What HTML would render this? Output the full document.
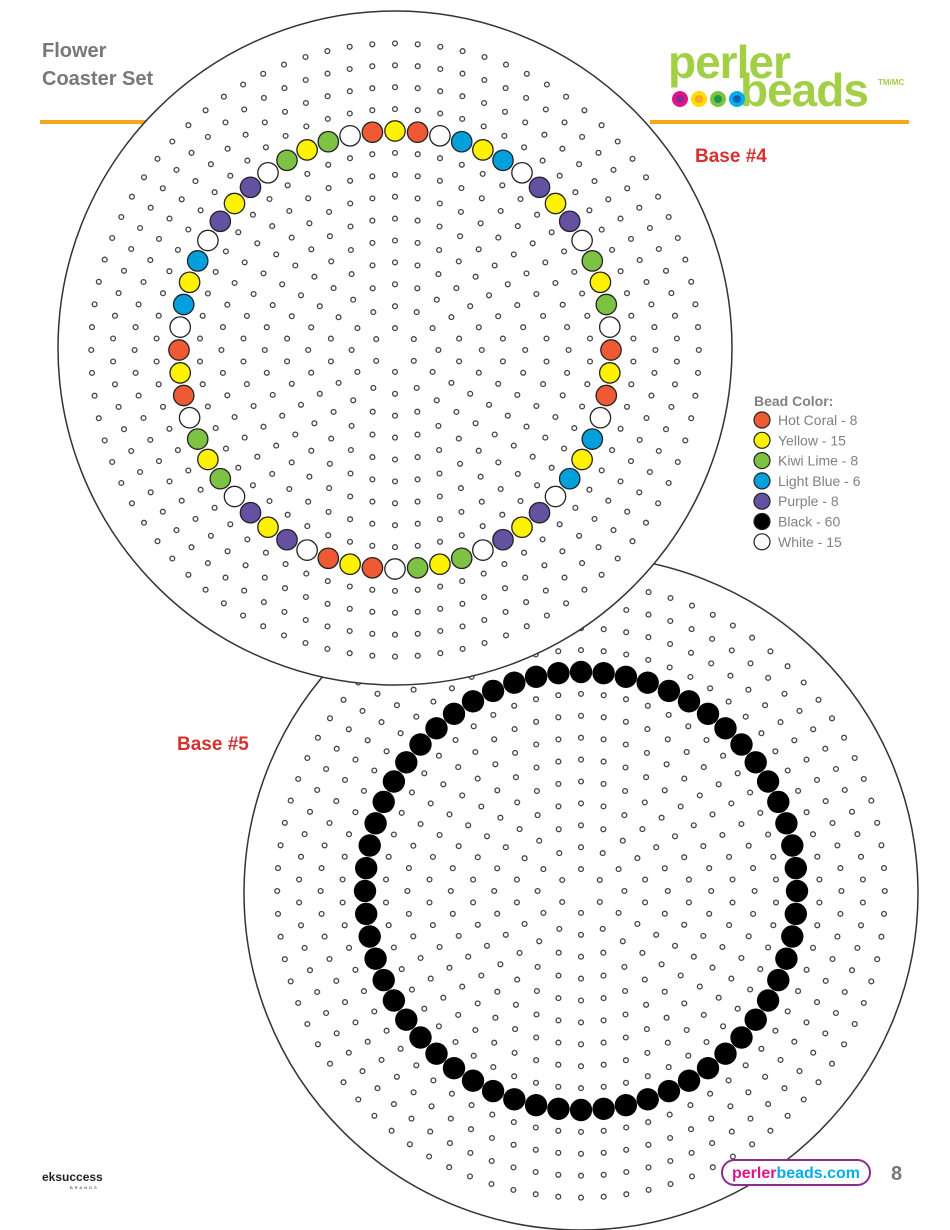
<!DOCTYPE html>
<html><head><meta charset="utf-8"><style>
body{margin:0;background:#fff;width:950px;height:1230px;overflow:hidden;font-family:"Liberation Sans",sans-serif}
</style></head><body>
<svg id="s" width="950" height="1230" xmlns="http://www.w3.org/2000/svg" style="position:absolute;left:0;top:0">
<rect x="40" y="120" width="110" height="4" fill="#f5a81c"/>
<rect x="650" y="120" width="259" height="4" fill="#f5a81c"/>
<g id="b5"></g>
<g id="b4"></g>
<text x="42" y="57" font-size="20" font-weight="bold" fill="#77787b">Flower</text>
<text x="42" y="85" font-size="20" font-weight="bold" fill="#77787b">Coaster Set</text>
<text x="668" y="78" font-size="46" font-weight="bold" fill="#a3cf47" letter-spacing="-1">perler</text>
<text x="740" y="106" font-size="46" font-weight="bold" fill="#a3cf47" letter-spacing="-1">beads</text>
<text x="878" y="85" font-size="8" font-weight="bold" fill="#a3cf47">TM/MC</text>
<circle cx="680" cy="99" r="8" fill="#e0148a"/><circle cx="680" cy="99" r="4" fill="#8b2a8e"/>
<circle cx="699" cy="99" r="8" fill="#ffdc00"/><circle cx="699" cy="99" r="4" fill="#f5a81c"/>
<circle cx="718" cy="99" r="8" fill="#7dc242"/><circle cx="718" cy="99" r="4" fill="#1a9a48"/>
<circle cx="737" cy="99" r="8" fill="#00aeef"/><circle cx="737" cy="99" r="4" fill="#1060b0"/>
<text x="695" y="162" font-size="19" font-weight="bold" fill="#d6312f">Base #4</text>
<text x="177" y="750" font-size="19" font-weight="bold" fill="#d6312f">Base #5</text>
<text x="754" y="406" font-size="14" font-weight="bold" fill="#808184">Bead Color:</text>
<g id="leg" font-size="14" fill="#808184"></g>
<text x="42" y="1181" font-size="12" font-weight="bold" fill="#222">eksuccess</text>
<text x="70" y="1189" font-size="4" fill="#222" letter-spacing="2">BRANDS</text>
<rect x="722" y="1160" width="148" height="25" rx="12.5" fill="#fff" stroke="#8e2b8e" stroke-width="2"/>
<text x="796" y="1178" font-size="16" font-weight="bold" text-anchor="middle"><tspan fill="#e0148a">perler</tspan><tspan fill="#00aeef">beads.com</tspan></text>
<text x="891" y="1180" font-size="20" font-weight="bold" fill="#77787b">8</text>
</svg>
<script>
var NS="http://www.w3.org/2000/svg";
function c(g,x,y,r,f,s,w){var e=document.createElementNS(NS,"circle");e.setAttribute("cx",x.toFixed(1));e.setAttribute("cy",y.toFixed(1));e.setAttribute("r",r);e.setAttribute("fill",f);if(s){e.setAttribute("stroke",s);e.setAttribute("stroke-width",w);}g.appendChild(e);}
var col={C:"#ef5a34",Y:"#fff200",G:"#7dc242",B:"#00a0dd",P:"#6451a2",W:"#fff",K:"#000"};
var seq4="YCWGYGWPYPWBYBWCYCWGYGWPYPWCYCWGYGWPYPWBYBWCYCWGYGWPYPWBYBWC";
function base(g,cx,cy,seq,black){
 c(g,cx,cy+(black?2:-2),337,"#fff","#333",1.5);
 for(var k=1;k<=14;k++){if(k==10)continue;var n=6*k;var off=(k%2)?0.5:0;
  for(var i=0;i<n;i++){var a=-Math.PI/2+(i+off*0)*2*Math.PI/n;c(g,cx+21.7*k*Math.cos(a),cy+21.9*k*Math.sin(a),2.4,"#fff","#444",1.3);}}
 for(var i=0;i<60;i++){var a=(-90-i*6)*Math.PI/180;var x=cx+216*Math.cos(a),y=cy+219*Math.sin(a);
  if(black)c(g,x,y,11.2,"#000");else c(g,x,y,10.2,col[seq[i]],"#222",1.3);}
}
base(document.getElementById("b5"),581,891,null,true);
base(document.getElementById("b4"),395,350,seq4,false);
var leg=[["C","Hot Coral - 8"],["Y","Yellow - 15"],["G","Kiwi Lime - 8"],["B","Light Blue - 6"],["P","Purple - 8"],["K","Black - 60"],["W","White - 15"]];
var lg=document.getElementById("leg");
leg.forEach(function(l,i){var y=420+i*20.3;c(lg,762,y,8,col[l[0]],"#222",1.2);var t=document.createElementNS(NS,"text");t.setAttribute("x",778);t.setAttribute("y",y+5);t.textContent=l[1];lg.appendChild(t);});
</script>
</body></html>
